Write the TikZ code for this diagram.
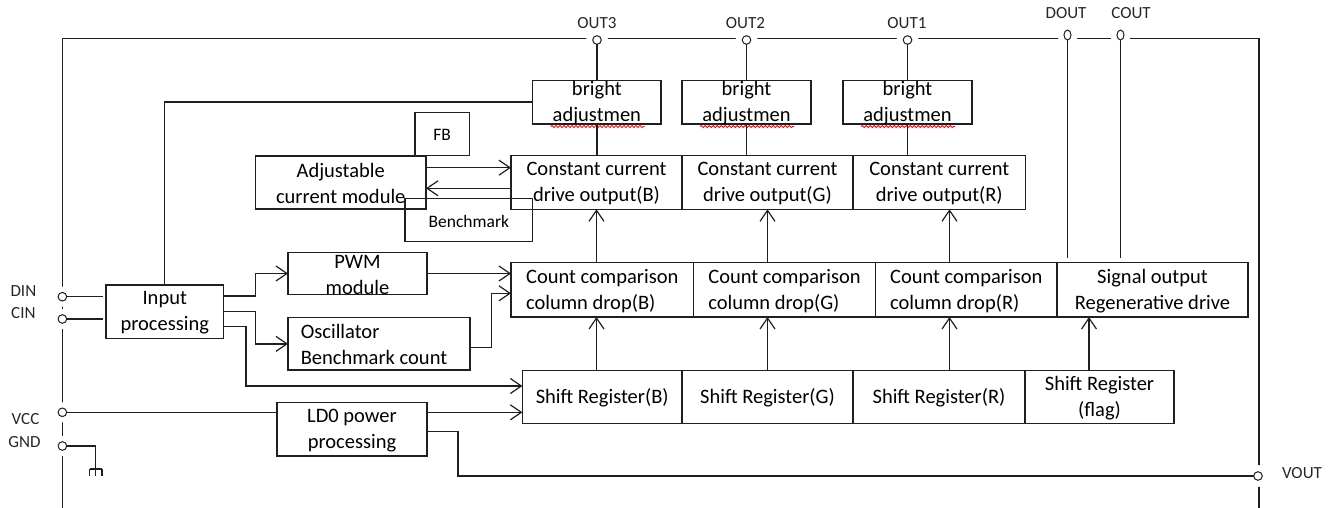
\documentclass[tikz,border=0pt]{standalone}
\usepackage{fontspec}
\setmainfont{Carlito}
\usetikzlibrary{arrows.meta,decorations.pathmorphing,shapes.geometric}
\newcommand\mkbox[7][]{%
  \node[box,anchor=north west,minimum width={#5-#3},minimum height={#6-#4}] (#2) at (#3,#4) {};
  \node[txt,#1] (#2t) at (#2.center) {#7};}
\newcommand\mkpin[4]{%
  \fill[white] (#2,#3) circle[radius=#4pt];
  \node[pinc] (#1) at (#2,#3) {};}
\newcommand\mkpine[3]{%
  \fill[white] (#2,#3) circle[radius=10pt];
  \node[pine] (#1) at (#2,#3) {};}
\begin{document}
\begin{tikzpicture}[x=1pt,y=-1pt,color=black!88,line width=1.3pt,
  box/.style={draw,line width=1.4pt,inner sep=0pt,outer sep=0pt},
  txt/.style={inner sep=0pt,align=center,font=\fontsize{20.5}{26}\selectfont,text=black,yshift=-1pt},
  small/.style={font=\fontsize{17.5}{21}\selectfont},
  lbl/.style={inner sep=0pt,font=\fontsize{17}{20}\selectfont,text=black!85},
  pinc/.style={circle,draw,fill=white,line width=1pt,minimum size=8.6pt,inner sep=0pt,outer sep=0pt},
  pine/.style={ellipse,draw,fill=white,line width=1pt,minimum width=7pt,minimum height=10pt,inner sep=0pt,outer sep=0pt},
  arr/.style={-{Straight Barb[length=11pt,width=15pt,line width=1.2pt]}},
  squig/.style={red,line width=0.8pt,decorate,decoration={snake,amplitude=1.1pt,segment length=4pt}}]
\useasboundingbox (0,0) rectangle (1334,508);
% frame
\draw (62.4,508) -- (62.4,38.3) -- (1259,38.3) -- (1259,508);
% pins
\mkpin{o3}{597}{40}{11}
\mkpin{o2}{746.5}{40}{11}
\mkpin{o1}{907.5}{40}{11}
\mkpine{dout}{1067.5}{35}
\mkpine{cout}{1120.5}{35}
\mkpin{din}{62.4}{296.7}{10}
\mkpin{cin}{62.4}{319}{10}
\mkpin{vcc}{62.4}{412.3}{10}
\mkpin{gnd}{62.4}{446}{10}
\mkpin{vout}{1258}{476}{11}
% pin labels
\node[lbl] (l3) at (597,22.7) {OUT3};
\node[lbl] (l2) at (745.5,22.7) {OUT2};
\node[lbl] (l1) at (907,22.7) {OUT1};
\node[lbl] (ldout) at (1066,13) {DOUT};
\node[lbl] (lcout) at (1131,13) {COUT};
\node[lbl] (ldin) at (23.4,290.7) {DIN};
\node[lbl] (lcin) at (23.4,312.7) {CIN};
\node[lbl] (lvcc) at (25.5,419) {VCC};
\node[lbl] (lgnd) at (24.5,442) {GND};
\node[lbl] (lvout) at (1302,473) {VOUT};
% boxes
\mkbox{b3}{532.7}{80.3}{661}{124}{bright\\adjustmen}
\mkbox{b2}{682}{80.3}{811}{124}{bright\\adjustmen}
\mkbox{b1}{843}{80.3}{972}{124}{bright\\adjustmen}
\mkbox{ccB}{511}{155.7}{682}{209.3}{Constant current\\drive output(B)}
\mkbox{ccG}{682}{155.7}{853}{209.3}{Constant current\\drive output(G)}
\mkbox{ccR}{853}{155.7}{1025.5}{209.3}{Constant current\\drive output(R)}
\mkbox{adj}{255.5}{156}{426}{209}{Adjustable\\current module}
\mkbox[small]{fb}{415}{112.7}{469.3}{155.7}{FB}
\mkbox[small]{bench}{405}{198.7}{532.7}{241.5}{Benchmark}
\mkbox{pwm}{288}{252.7}{427}{294.3}{PWM\\module}
\mkbox[align=left,xshift=-5pt]{osc}{288}{317.7}{470}{370}{Oscillator\\Benchmark count}
\mkbox{inp}{106}{285}{223.5}{338.3}{Input\\processing}
\mkbox[align=left]{cmpB}{511}{262.7}{693.5}{317}{Count comparison\\column drop(B)}
\mkbox[align=left]{cmpG}{693.5}{262.7}{875.5}{317}{Count comparison\\column drop(G)}
\mkbox[align=left]{cmpR}{875.5}{262.7}{1057}{317}{Count comparison\\column drop(R)}
\mkbox{sig}{1057}{262.7}{1248}{317}{Signal output\\Regenerative drive}
\mkbox{srB}{522.4}{370.7}{682}{423.3}{Shift Register(B)}
\mkbox{srG}{682}{370.7}{853}{423.3}{Shift Register(G)}
\mkbox{srR}{853}{370.7}{1025}{423.3}{Shift Register(R)}
\mkbox{srF}{1025}{370.7}{1174}{423.3}{Shift Register\\(flag)}
\mkbox{ld0}{277}{402.7}{427}{456}{LD0 power\\processing}
% spell-check squiggles
\draw[squig] ([xshift=18pt,yshift=-2.5pt]b3.south west) -- ++(94,0);
\draw[squig] ([xshift=18pt,yshift=-2.5pt]b2.south west) -- ++(94,0);
\draw[squig] ([xshift=18pt,yshift=-2.5pt]b1.south west) -- ++(94,0);
% pins to bright boxes
\draw (o3.south) -- (o3.south |- b3.north);
\draw (o2.south) -- (o2.south |- b2.north);
\draw (o1.south) -- (o1.south |- b1.north);
% bright to constant current
\draw (b3.south) -- (b3.south |- ccB.north);
\draw (b2.south) -- (b2.south |- ccG.north);
\draw (b1.south) -- (b1.south |- ccR.north);
% input to bright
\draw (inp.north) |- (b3.west);
% adjustable <-> CC(B)
\draw[arr] ([yshift=14.8pt]adj.east) -- ([yshift=14.8pt]adj.east -| ccB.west);
\draw[arr] ([yshift=-5.8pt]adj.east -| ccB.west) -- ([yshift=-5.8pt]adj.east);
% count comparison to CC
\draw[arr] (ccB.south |- cmpB.north) -- (ccB.south);
\draw[arr] (ccG.south |- cmpG.north) -- (ccG.south);
\draw[arr] ([xshift=10.25pt]ccR.south |- cmpR.north) -- ([xshift=10.25pt]ccR.south);
% shift register to count comparison
\draw[arr] (ccB.south |- srB.north) -- (ccB.south |- cmpB.south);
\draw[arr] (srG.north) -- (srG.north |- cmpG.south);
\draw[arr] ([xshift=10.25pt]ccR.south |- srR.north) -- ([xshift=10.25pt]ccR.south |- cmpR.south);
\draw[arr] ([xshift=-10.5pt]srF.north) -- ([xshift=-10.5pt]srF.north |- sig.south);
% DOUT / COUT
\draw[shorten >=4.5pt] (dout.south) -- (dout.south |- sig.north);
\draw[shorten >=4.5pt] (cout.south) -- (cout.south |- sig.north);
% DIN / CIN
\draw[shorten >=3.5pt] (din.east) -- (din.east -| inp.west);
\draw[shorten >=3.5pt] (cin.east) -- (cin.east -| inp.west);
% input processing outputs
\draw[arr] ([yshift=15.6pt]inp.east) -- ++(32,0) |- (pwm.west);
\draw[arr] (inp.east) -- ++(32,0) |- (osc.west);
\draw[arr] ([yshift=-15pt]inp.east) -- ++(22.5,0) |- ([yshift=11pt]srB.west);
% PWM / oscillator to count comparison
\draw[arr] (pwm.east) -- (pwm.east -| cmpB.west);
\draw[arr] ([yshift=-3.85pt]osc.east) -- ++(21.4,0) |- ([yshift=-3.45pt]cmpB.west);
% power
\draw (vcc.east) -- (vcc.east -| ld0.west);
\draw[arr] ([yshift=17pt]ld0.east) -- ([yshift=17pt]ld0.east -| srB.west);
\draw ([yshift=-2.3pt]ld0.east) -- ++(31,0) |- (vout.west);
% ground
\draw (gnd.east) -- ++(29,0) coordinate (gk) -- ++(0,23) coordinate (gb);
\draw[line width=1.2pt] ([xshift=-6pt]gb) -- ([xshift=6.3pt]gb)
  ([xshift=-6pt]gb) -- ++(0,7) (gb) -- ++(0,7) ([xshift=6.3pt]gb) -- ++(0,7);
\end{tikzpicture}
\end{document}
